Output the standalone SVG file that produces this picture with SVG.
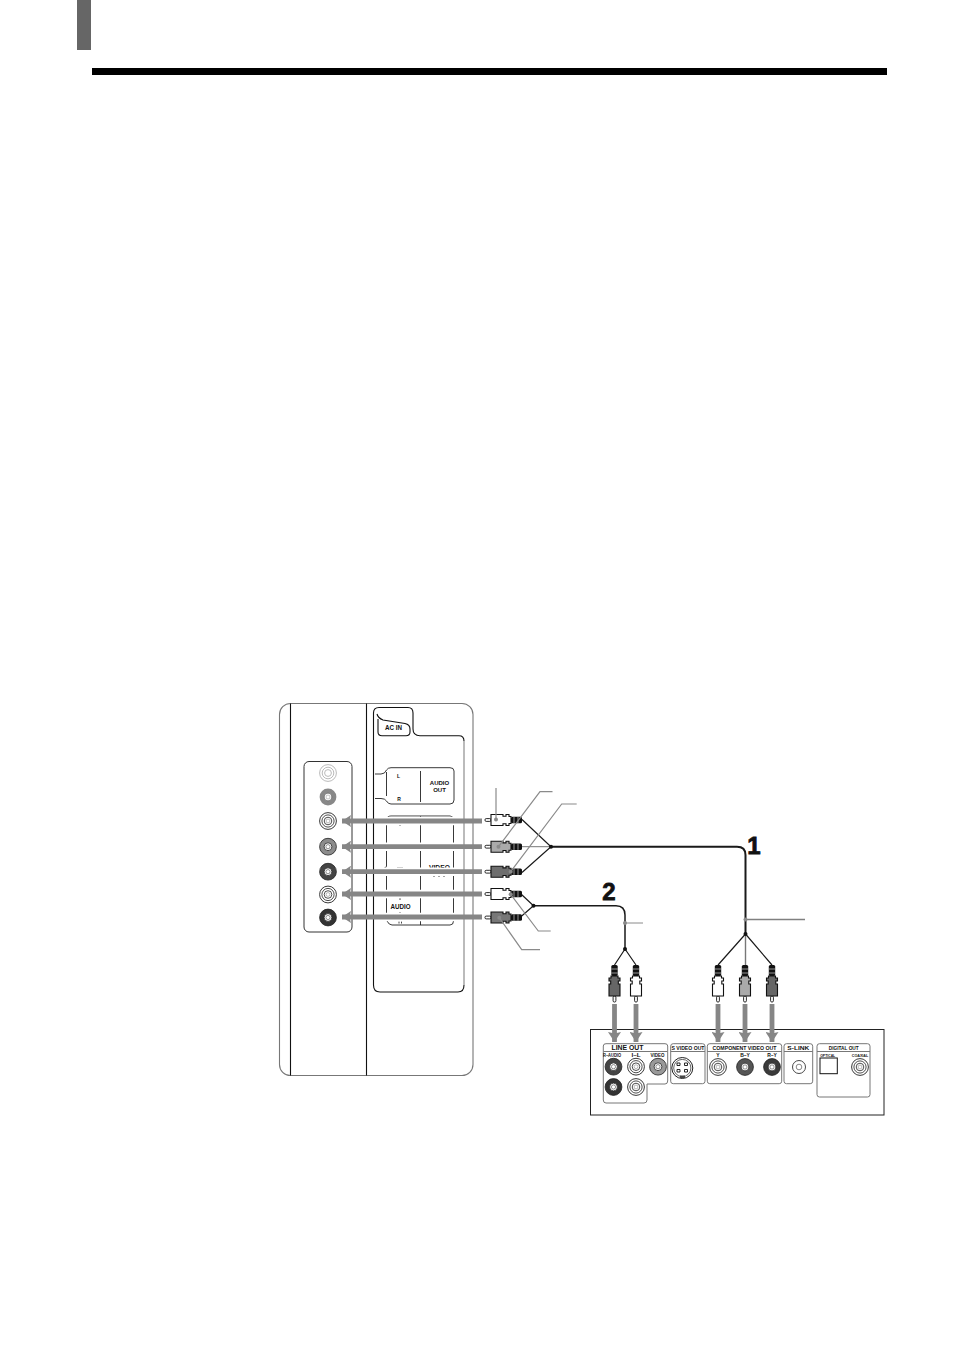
<svg xmlns="http://www.w3.org/2000/svg" width="954" height="1351" viewBox="0 0 954 1351">
<style>
text{font-family:"Liberation Sans",Arial,sans-serif;font-weight:bold;fill:#111;text-anchor:middle;dominant-baseline:central}
.ln{fill:none;stroke:#222;stroke-width:.9}
.blk{fill:none;stroke:#111;stroke-width:1.1}
.gry{fill:none;stroke:#777;stroke-width:1}
.hl{stroke:#fff;stroke-width:8.5;fill:none}
.ar{stroke:#868686;stroke-width:4.8;fill:none}
.arl{marker-end:url(#hl)}
.arv{marker-end:url(#hv)}
.lead{stroke:#8a8a8a;fill:none;stroke-width:1.2}
.cb{stroke:#1a1a1a;fill:none;stroke-width:1.2}
.s5{font-size:5px}
.s6{font-size:6px}
.s7{font-size:6.8px}
.num{font-size:24px;stroke:#111;stroke-width:.8}
</style>
<defs>
<marker id="hl" markerUnits="userSpaceOnUse" markerWidth="10" markerHeight="12" refX="9" refY="6" orient="auto"><path d="M0 0L9 6L0 12L1.500 6Z" fill="#868686"/></marker>
<marker id="hv" markerUnits="userSpaceOnUse" markerWidth="11" markerHeight="13" refX="10" refY="6.500" orient="auto"><path d="M0 0L10 6.500L0 13L1.500 6.500Z" fill="#868686"/></marker>
<g id="plug">
<rect x="0" y="-1.400" width="6" height="2.800" rx="1.200" fill="#fff" stroke="#111" stroke-width=".9"/>
<path d="M6-5.500H18V-3.800H21V-5.500H24V-3.500H26V3.500H24V5.500H21V3.800H18V5.500H6Z" fill="currentColor" stroke="#111" stroke-width="1.100"/>
<rect x="26" y="-3.200" width="11" height="6.400" rx="1.500" fill="#111"/>
<path d="M29-3.200v6.400M33-3.200v6.400" stroke="#ccc" stroke-width=".7"/>
</g>
<g id="jack">
<circle r="8.400" fill="currentColor" stroke="#222" stroke-width=".8"/>
<circle r="3.900" fill="#fff" stroke="#222" stroke-width=".8"/>
<circle r="2.100" fill="#fff" stroke="#444" stroke-width=".6"/>
</g>
<g id="jackw">
<circle r="8.400" fill="#fff" stroke="#222" stroke-width=".9"/>
<circle r="6.100" fill="#fff" stroke="#222" stroke-width=".8"/>
<circle r="3.800" fill="#fff" stroke="#222" stroke-width=".8"/>
<circle r="1.900" fill="#fff" stroke="#777" stroke-width=".5"/>
</g>
</defs>

<g id="page-header">
<rect x="77" y="0" width="14" height="50" fill="#666"/>
<rect x="92" y="68" width="795" height="7" fill="#000"/>
</g>

<g id="tv-panel">
<rect x="279.500" y="703.500" width="193.500" height="372" rx="11" fill="#fff" stroke="#777" stroke-width="1.100"/>
<path class="blk" d="M290.500 703.500V1075.500M366.500 703.500V1075.500"/>
</g>

<g id="ac-in">
<path class="blk" d="M373.500 985V713Q373.500 707.500 379 707.500H408Q413 707.500 413 713V729Q413 735.700 420 735.700H459Q464 735.700 464 741"/>
<path class="blk" d="M373.500 985Q373.500 992 380 992H458Q464 992 464 985"/>
<path d="M464 741V985" fill="none" stroke="#aaa" stroke-width="1.600"/>
<path class="blk" d="M377 714Q378 718 383 720L405 723.500Q410 724.500 410 729V732Q410 735.700 406 735.700H382Q378 735.700 378 732V719"/>
<text x="393.500" y="727.500" class="s7" textLength="17" lengthAdjust="spacingAndGlyphs">AC IN</text>
</g>

<g id="audio-out-label">
<path class="ln" d="M375 774H381Q385 774 386.500 770Q388 767.700 391 767.700H450Q454 767.700 454 771V800Q454 804 450 804H391Q388 804 386.500 801Q385 798.500 381 798.500H375M386.500 772V796M420.500 771V802"/>
<text x="398.500" y="776" class="s5">L</text>
<text x="399" y="798.500" class="s5">R</text>
<text x="439.500" y="783" class="s6">AUDIO</text>
<text x="439.500" y="790" class="s6">OUT</text>
</g>

<g id="video-in-label">
<path class="ln" d="M391 816H450Q453.500 816 453.500 820V921Q453.500 925 450 925H392Q389 925 387 921L386.500 918M391 816Q386.500 816 386.500 820V866Q386.500 868 383.500 868.500M386.500 868V917M420.500 816V925"/>
<text x="439.500" y="867.500" class="s7" textLength="21" lengthAdjust="spacingAndGlyphs">VIDEO</text>
<text x="400.500" y="906.500" class="s7" textLength="20" lengthAdjust="spacingAndGlyphs">AUDIO</text>
<path d="M400 824v2M397 843.500h3M397 868h6M400 897v3M400 912v3M399 921.500v2M401.500 921.500v2M433 876h2M438 876h2M443 876h2" stroke="#333" stroke-width=".9" fill="none"/>
<path class="hl" d="M376 821H461M376 846.700H461M376 871.700H461M376 894H461M376 917H461"/>
</g>

<g id="tv-jacks">
<rect x="304" y="761.500" width="48" height="170.500" rx="5" fill="none" stroke="#333" stroke-width="1"/>
<g id="jack-audio-l" transform="translate(328,773)"><circle r="8.400" fill="#fff" stroke="#bbb"/><circle r="5.800" fill="#fff" stroke="#bbb"/><circle r="3.400" fill="#fff" stroke="#bbb"/></g>
<g id="jack-audio-r" transform="translate(328,797)"><circle r="8.400" fill="#888"/><circle r="3.900" fill="#fff" stroke="#666" stroke-width=".8"/><circle r="2" fill="#fff" stroke="#888" stroke-width=".5"/></g>
<use id="jack-y" href="#jackw" x="328" y="821"/>
<use id="jack-by" href="#jack" x="328" y="846.700" color="#8c8c8c"/>
<use id="jack-ry" href="#jack" x="328" y="871.700" color="#444"/>
<use id="jack-l-in" href="#jackw" x="328" y="894.500"/>
<use id="jack-r-in" href="#jack" x="328" y="917.500" color="#333"/>
</g>

<g id="player-panel">
<rect x="590.500" y="1029.500" width="293.500" height="85.500" fill="#fff" stroke="#222" stroke-width="1"/>
<g id="line-out">
<path class="gry" d="M603.500 1051.500H667.500M606 1043.700H665Q667.700 1043.700 667.700 1046V1081Q667.700 1084 665 1084H647V1100Q647 1103 644 1103H606Q603.300 1103 603.300 1100V1046Q603.300 1043.700 606 1043.700Z"/>
<text x="627.500" y="1047.500" class="s7" textLength="32" lengthAdjust="spacingAndGlyphs">LINE OUT</text>
<text x="612" y="1055" font-size="4.500" textLength="18" lengthAdjust="spacingAndGlyphs">R–AUDIO</text>
<text x="636" y="1055" font-size="4.500" textLength="9" lengthAdjust="spacingAndGlyphs">I–L</text>
<text x="657.500" y="1055" font-size="4.500" textLength="14" lengthAdjust="spacingAndGlyphs">VIDEO</text>
<use href="#jack" x="613.500" y="1066.700" color="#444"/>
<use href="#jackw" x="636" y="1066.700"/>
<use href="#jack" x="658" y="1066.700" color="#999"/>
<use href="#jack" x="613.500" y="1087" color="#333"/>
<use href="#jackw" x="636" y="1087"/>
</g>
<g id="s-video-out">
<rect x="670.700" y="1043.700" width="34.300" height="40" rx="2.500" class="gry"/>
<path class="gry" d="M670.700 1051.500H705"/>
<text x="688" y="1047.500" font-size="5.500" textLength="33" lengthAdjust="spacingAndGlyphs">S VIDEO OUT</text>
<circle cx="682.300" cy="1068" r="10.500" fill="#fff" stroke="#222"/>
<circle cx="682.300" cy="1068" r="8.600" fill="#fff" stroke="#222" stroke-width=".7"/>
<path d="M677 1063h3v2.500h-3zM684.500 1063h3v2.500h-3zM677 1069.500h3v2.500h-3zM684.500 1069.500h3v2.500h-3z" fill="#fff" stroke="#111" stroke-width=".9"/>
<rect x="680" y="1075.500" width="5" height="2.500" fill="#444"/>
</g>
<g id="component-video-out">
<rect x="707.300" y="1043.700" width="74.400" height="40" rx="2.500" class="gry"/>
<path class="gry" d="M707.300 1051.500H781.700"/>
<text x="744.500" y="1047.500" font-size="5.200" textLength="64" lengthAdjust="spacingAndGlyphs">COMPONENT VIDEO OUT</text>
<text x="718" y="1055" class="s5">Y</text>
<text x="745" y="1055" class="s5">B–Y</text>
<text x="772" y="1055" class="s5">R–Y</text>
<use href="#jackw" x="718" y="1067"/>
<use href="#jack" x="745" y="1067" color="#555"/>
<use href="#jack" x="772" y="1067" color="#3a3a3a"/>
</g>
<g id="s-link">
<rect x="784" y="1043.700" width="28.700" height="40" rx="2.500" class="gry"/>
<path class="gry" d="M784 1051.500H812.700"/>
<text x="798.300" y="1047.500" font-size="5.800" textLength="22" lengthAdjust="spacingAndGlyphs">S-LINK</text>
<circle cx="799" cy="1067" r="6.500" fill="#fff" stroke="#333" stroke-width=".9"/>
<circle cx="799" cy="1067" r="2.800" fill="#fff" stroke="#555" stroke-width=".7"/>
</g>
<g id="digital-out">
<rect x="817" y="1043.700" width="53" height="53.300" rx="2.500" class="gry"/>
<path class="gry" d="M817 1051.500H870"/>
<text x="843.700" y="1047.500" font-size="5.800" textLength="30" lengthAdjust="spacingAndGlyphs">DIGITAL OUT</text>
<text x="827.700" y="1055" font-size="4" textLength="15" lengthAdjust="spacingAndGlyphs">OPTICAL</text>
<text x="860" y="1055" font-size="4" textLength="16.500" lengthAdjust="spacingAndGlyphs">COAXIAL</text>
<rect x="820" y="1058" width="17.300" height="15.700" fill="#fff" stroke="#111" stroke-width="1"/>
<use href="#jackw" x="860" y="1067"/>
</g>
</g>

<g id="connectors">
<path class="ar arl" d="M482 821H342"/>
<path class="ar arl" d="M482 846.700H342"/>
<path class="ar arl" d="M482 871.700H342"/>
<path class="ar arl" d="M482 894H342"/>
<path class="ar arl" d="M482 917H342"/>
<path class="ar arv" d="M614.500 1004V1042"/>
<path class="ar arv" d="M636 1004V1042"/>
<path class="ar arv" d="M718 1004V1042"/>
<path class="ar arv" d="M745 1004V1042"/>
<path class="ar arv" d="M772 1004V1042"/>
<path class="cb" d="M522 819.500L551 846.700L522 872.500"/>
<path d="M522 846.700H551" stroke="#777" stroke-width="1"/>
<path d="M551 846.700H737Q745.500 846.700 745.500 855V934" fill="none" stroke="#1a1a1a" stroke-width="2"/>
<path class="cb" d="M745.500 934L718 965M745.500 934L772 965"/>
<path d="M745.500 934V965" stroke="#777" stroke-width="1.400"/>
<path class="cb" d="M521 894L533.500 905.700L520 917.500"/>
<path d="M533.500 905.700H616Q625 905.700 625 915V949" fill="none" stroke="#1a1a1a" stroke-width="1.500"/>
<path class="cb" d="M625 949L614.500 965M625 949L636 965"/>
<circle cx="551" cy="846.700" r="2" fill="#111"/>
<circle cx="533.500" cy="905.700" r="2" fill="#111"/>
<circle cx="745.500" cy="934" r="2" fill="#111"/>
<circle cx="625" cy="949" r="2" fill="#111"/>
</g>

<g id="plugs-left">
<use href="#plug" transform="translate(485,820)" color="#fff"/>
<use href="#plug" transform="translate(485,846.700)" color="#aaa"/>
<use href="#plug" transform="translate(485,871.700)" color="#6e6e6e"/>
<use href="#plug" transform="translate(485,894)" color="#fff"/>
<use href="#plug" transform="translate(485,917.500)" color="#777"/>
</g>
<g id="plugs-bottom">
<use href="#plug" transform="translate(614.500,1002) rotate(-90)" color="#666"/>
<use href="#plug" transform="translate(636,1002) rotate(-90)" color="#fff"/>
<use href="#plug" transform="translate(718,1002) rotate(-90)" color="#fff"/>
<use href="#plug" transform="translate(745,1002) rotate(-90)" color="#aaa"/>
<use href="#plug" transform="translate(772,1002) rotate(-90)" color="#666"/>
</g>

<g id="leaders">
<path class="lead" d="M496 788V819.500"/>
<path class="lead" d="M552.500 791.700H540L498.500 846.700"/>
<path class="lead" d="M576.700 804H561.700L510.700 871.700"/>
<path class="lead" d="M550.700 931H538.300L510.700 894.300"/>
<path class="lead" d="M540 949.700H521.700L499.300 917.700"/>
<path d="M745.500 919.500H805" stroke="#808080" stroke-width="1.600"/>
<path d="M625 923H643" stroke="#8a8a8a" stroke-width="1"/>
<g fill="#8a8a8a"><circle cx="496" cy="819.500" r="2"/><circle cx="498.500" cy="846.700" r="2"/><circle cx="510.700" cy="871.700" r="2"/><circle cx="510.700" cy="894.300" r="2"/><circle cx="499.300" cy="917.700" r="2"/><circle cx="745.500" cy="919.500" r="2"/><circle cx="625" cy="923" r="2"/></g>
</g>

<g id="cable-numbers">
<text x="754" y="845" class="num">1</text>
<text x="609" y="891.500" class="num">2</text>
</g>
</svg>
